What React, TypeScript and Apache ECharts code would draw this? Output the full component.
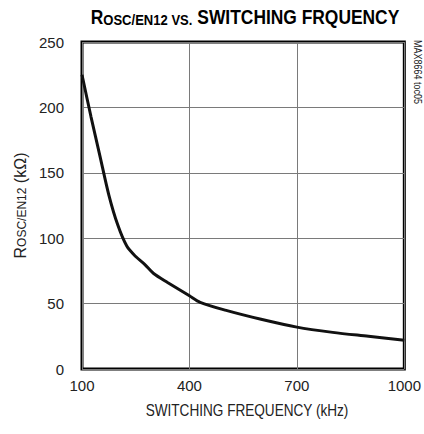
import React, { useEffect, useRef } from "react";
import * as echarts from "echarts";

const freqKHz = [100, 125, 150, 175, 200, 225, 250, 275, 300, 340, 400, 430, 500, 600, 700, 800, 900, 1000];
const rOscKOhm = [225, 193, 163, 133, 110, 94, 86, 80, 73, 66, 56, 51, 45, 38, 32, 28, 25, 22];
const xAxisMin = 100;
const xAxisMax = 1000;
const xAxisStep = 300;
const yAxisMin = 0;
const yAxisMax = 250;
const yAxisStep = 50;

const SANS = '"Liberation Sans", Arial, sans-serif';

export default function App() {
  const ref = useRef<HTMLDivElement>(null);
  useEffect(() => {
    if (!ref.current) return;
    const chart = echarts.init(ref.current, undefined, { renderer: "svg" });
    const data = freqKHz.map((f, i) => [f, rOscKOhm[i]]);
    chart.setOption({
      animation: false,
      backgroundColor: "#fff",
      grid: {
        left: 82,
        right: 12,
        top: 42,
        bottom: 65,
        show: true,
        borderColor: "#000",
        borderWidth: 3,
        backgroundColor: "transparent",
      },
      xAxis: {
        type: "value",
        min: xAxisMin,
        max: xAxisMax,
        interval: xAxisStep,
        axisLine: { show: false },
        axisTick: { show: false },
        axisLabel: {
          fontFamily: SANS,
          fontSize: 15,
          color: "#222",
          margin: 9,
          formatter: (v: number) => String(v),
        },
        splitLine: { show: true, lineStyle: { color: "#7a7a7a", width: 1 } },
      },
      yAxis: {
        type: "value",
        min: yAxisMin,
        max: yAxisMax,
        interval: yAxisStep,
        name: "{big|R}{small|OSC/EN12}{big| (kΩ)}",
        nameLocation: "middle",
        nameGap: 53,
        nameRotate: 90,
        nameTextStyle: {
          rich: {
            big: { fontFamily: SANS, fontSize: 16, color: "#222" },
            small: { fontFamily: SANS, fontSize: 12, color: "#222", verticalAlign: "bottom" },
          },
        },
        axisLine: { show: false },
        axisTick: { show: false },
        axisLabel: { fontFamily: SANS, fontSize: 15, color: "#222", margin: 18 },
        splitLine: { show: true, lineStyle: { color: "#7a7a7a", width: 1 } },
      },
      graphic: [
        {
          type: "text",
          x: 245,
          y: 17,
          scaleX: 0.87,
          style: {
            text: "{big|R}{small|OSC/EN12 VS.}{big| SWITCHING FRQUENCY}",
            textAlign: "center",
            textVerticalAlign: "middle",
            rich: {
              big: { fontFamily: SANS, fontWeight: "bold", fontSize: 20, fill: "#000", verticalAlign: "bottom" },
              small: { fontFamily: SANS, fontWeight: "bold", fontSize: 15, fill: "#000", verticalAlign: "bottom" },
            },
          },
        },
        {
          type: "text",
          x: 247,
          y: 411,
          scaleX: 0.85,
          style: {
            text: "SWITCHING FREQUENCY (kHz)",
            fontFamily: SANS,
            fontSize: 16,
            fill: "#222",
            textAlign: "center",
            textVerticalAlign: "middle",
          },
        },
        {
          type: "text",
          x: 423,
          y: 40,
          rotation: -Math.PI / 2,
          scaleX: 0.9,
          style: {
            text: "MAX8664 toc05",
            fontFamily: SANS,
            fontSize: 10,
            fill: "#222",
            textAlign: "left",
            textVerticalAlign: "top",
          },
        },
      ],
      series: [
        {
          type: "line",
          data,
          smooth: 0.3,
          showSymbol: false,
          lineStyle: { color: "#111", width: 3 },
          z: 5,
        },
      ],
    });
    return () => chart.dispose();
  }, []);
  return <div ref={ref} style={{ width: 424, height: 434, position: "absolute", left: 0, top: 0 }} />;
}
